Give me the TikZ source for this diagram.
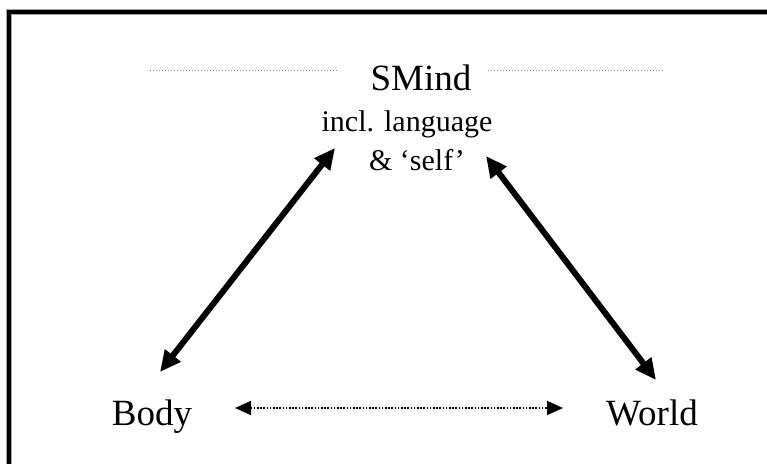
\documentclass[tikz,border=0pt]{standalone}
\usepackage{fontspec}
\setmainfont{Liberation Serif}
\usetikzlibrary{arrows.meta}
\tikzset{
  bigtxt/.style={anchor=base, inner sep=0pt, font=\fontsize{37}{42}\selectfont},
  smalltxt/.style={anchor=base, inner sep=0pt, font=\fontsize{30}{35}\selectfont},
  thickarrow/.style={line width=6pt, {Triangle[length=21pt,width=19pt]}-{Triangle[length=21pt,width=19pt]}},
  dotarrow/.style={line width=1.8pt, dash pattern=on 1.6pt off 1.6pt, {Triangle[length=16pt,width=14pt]}-{Triangle[length=16pt,width=14pt]}},
  rule/.style={line width=1pt, gray, dash pattern=on 1pt off 2pt},
}
\begin{document}
\begin{tikzpicture}[x=1pt,y=-1pt]
\useasboundingbox (0,0) rectangle (767,463);
\clip (0,0) rectangle (767,463);
% frame
\draw[line width=5.5pt, gray!70] (9,520) -- (9,12) -- (800,12);
\draw[line width=3.5pt, black] (9,520) -- (9,12) -- (800,12);
% texts
\node[bigtxt] (smind) at (421,90) {SMind};
\node[smalltxt] (incl) at (407,131) {incl. language};
\node[smalltxt] (self) at (417,170) {\& ‘self’};
\node[bigtxt] (body) at (152,425) {Body};
\node[bigtxt] (world) at (652,425) {World};
% dotted rules beside SMind
\coordinate (rl1) at (150,70);
\coordinate (rl2) at (337,70);
\coordinate (rr1) at (488,70);
\coordinate (rr2) at (665,70);
\draw[rule] (rl1) -- (rl2);
\draw[rule] (rr1) -- (rr2);
% connector end points
\coordinate (bodyTop) at (160,372);
\coordinate (mindLeft) at (335,148);
\coordinate (mindRight) at (486,156);
\coordinate (worldTop) at (656,380);
\coordinate (bodyRight) at (235,408);
\coordinate (worldLeft) at (563,408);
\draw[thickarrow] (bodyTop) -- (mindLeft);
\draw[thickarrow] (mindRight) -- (worldTop);
\draw[dotarrow] (bodyRight) -- (worldLeft);
\end{tikzpicture}
\end{document}
